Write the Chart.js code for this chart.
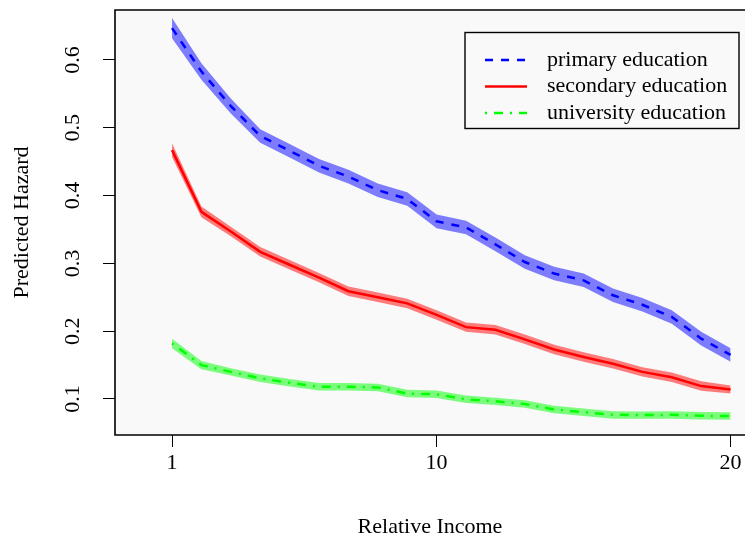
<!DOCTYPE html>
<html><head><meta charset="utf-8">
<script src="https://cdn.jsdelivr.net/npm/chart.js@4.4.1/dist/chart.umd.min.js"></script>
<style>html,body{margin:0;padding:0;background:#fff;overflow:hidden}#wrap{width:745px;height:542px}</style>
</head><body><div id="wrap"><canvas id="c" width="745" height="542"></canvas></div>
<script>
const income = [1,2,3,4,5,6,7,8,9,10,11,12,13,14,15,16,17,18,19,20];
const primary      = [0.647,0.583,0.532,0.488,0.466,0.444,0.428,0.408,0.395,0.362,0.353,0.328,0.302,0.285,0.275,0.253,0.239,0.221,0.189,0.165];
const primaryUpper = [0.662,0.595,0.543,0.498,0.476,0.454,0.438,0.418,0.405,0.372,0.363,0.338,0.312,0.295,0.285,0.263,0.249,0.231,0.199,0.175];
const primaryLower = [0.632,0.571,0.521,0.478,0.456,0.434,0.418,0.398,0.385,0.352,0.343,0.318,0.292,0.275,0.265,0.243,0.229,0.211,0.179,0.155];
const secondary      = [0.467,0.376,0.347,0.317,0.298,0.279,0.259,0.250,0.241,0.224,0.206,0.202,0.188,0.173,0.162,0.152,0.140,0.132,0.119,0.114];
const secondaryUpper = [0.477,0.384,0.354,0.324,0.305,0.286,0.266,0.257,0.248,0.231,0.213,0.209,0.195,0.180,0.169,0.159,0.147,0.139,0.126,0.120];
const secondaryLower = [0.457,0.368,0.340,0.310,0.291,0.272,0.252,0.243,0.234,0.217,0.199,0.195,0.181,0.166,0.155,0.145,0.133,0.125,0.112,0.108];
const university      = [0.182,0.150,0.140,0.1305,0.124,0.118,0.118,0.117,0.108,0.107,0.0995,0.0966,0.0926,0.0845,0.0806,0.0767,0.0762,0.0767,0.0752,0.0748];
const universityUpper = [0.189,0.156,0.1455,0.136,0.1295,0.1235,0.1235,0.1225,0.1135,0.1125,0.105,0.102,0.098,0.090,0.086,0.082,0.0817,0.082,0.0807,0.0803];
const universityLower = [0.175,0.144,0.1345,0.125,0.1185,0.1125,0.1125,0.1115,0.1025,0.1015,0.094,0.091,0.087,0.079,0.075,0.071,0.0707,0.071,0.0697,0.0693];
const seriesNames = ['primary education','secondary education','university education'];
const xTicks = [1,10,20];
const xTickLabels = ['1','10','20'];
const yTicks = [0.1,0.2,0.3,0.4,0.5,0.6];
const yTickLabels = ['0.1','0.2','0.3','0.4','0.5','0.6'];

const FONT = "'Liberation Serif','Times New Roman','DejaVu Serif',serif";
const FS = 22;
const lineColors = ['#0000ff','#ff0000','#00ff00'];
const bandColors = ['rgba(0,0,255,0.5)','rgba(255,0,0,0.5)','rgba(0,255,0,0.5)'];
const dashes = [[8,8],[],[2,7,9,7]];

const pts = arr => income.map((x,i)=>({x:x,y:arr[i]}));
const mains = [primary, secondary, university];
const uppers = [primaryUpper, secondaryUpper, universityUpper];
const lowers = [primaryLower, secondaryLower, universityLower];

const datasets = [];
for (let s=0;s<3;s++){
  datasets.push({label:seriesNames[s], data:pts(mains[s]), borderColor:lineColors[s], borderWidth:2.5,
    borderDash:dashes[s], fill:false, pointRadius:0, tension:0, order:0});
}
for (let s=0;s<3;s++){
  datasets.push({label:'upper'+s, data:pts(uppers[s]), borderColor:'rgba(0,0,0,0)', borderWidth:0,
    backgroundColor:bandColors[s], fill:{target:datasets.length+1}, pointRadius:0, tension:0, order:1});
  datasets.push({label:'lower'+s, data:pts(lowers[s]), borderColor:'rgba(0,0,0,0)', borderWidth:0,
    fill:false, pointRadius:0, tension:0, order:1});
}

const frame = {
  id:'frame',
  beforeDraw(chart){
    const {ctx, chartArea:a} = chart;
    ctx.save();
    ctx.fillStyle='#ffffff'; ctx.fillRect(0,0,chart.width,chart.height);
    ctx.fillStyle='#f9f9f9'; ctx.fillRect(a.left,a.top,a.right-a.left,a.bottom-a.top);
    ctx.restore();
  },
  afterDraw(chart){
    const {ctx, chartArea:a} = chart;
    ctx.save();
    ctx.strokeStyle='#000'; ctx.lineWidth=1.6;
    ctx.beginPath();
    ctx.moveTo(a.right+5,a.top); ctx.lineTo(a.left,a.top); ctx.lineTo(a.left,a.bottom); ctx.lineTo(a.right+5,a.bottom);
    ctx.stroke();
    // legend
    const lx=465, ly=32.5, lw=274, lh=96;
    ctx.lineWidth=1.4;
    ctx.strokeRect(lx,ly,lw,lh);
    const rows=[60,86.5,113];
    ctx.font = FS + "px " + FONT;
    ctx.textBaseline='middle'; ctx.textAlign='left';
    for(let s=0;s<3;s++){
      ctx.beginPath();
      ctx.strokeStyle=lineColors[s]; ctx.lineWidth=2.5; ctx.setLineDash(dashes[s]);
      ctx.moveTo(485,rows[s]); ctx.lineTo(527,rows[s]); ctx.stroke();
      ctx.setLineDash([]);
      ctx.fillStyle='#000';
      ctx.fillText(seriesNames[s],547,rows[s]);
    }
    ctx.restore();
  }
};

new Chart(document.getElementById('c'), {
  type:'line',
  data:{datasets:datasets},
  options:{
    responsive:false, animation:false, devicePixelRatio:1,
    layout:{padding:{top:10,right:0,bottom:0,left:0}},
    plugins:{legend:{display:false}, tooltip:{enabled:false}},
    scales:{
      x:{type:'linear', min:-0.94, max:20.49,
        afterBuildTicks:s=>{s.ticks = xTicks.map(v=>({value:v}));},
        ticks:{autoSkip:false, maxRotation:0, minRotation:0, padding:3, color:'#000',
          font:{family:FONT,size:FS}, callback:(v,i)=>xTickLabels[i]},
        grid:{drawOnChartArea:false, drawTicks:true, tickLength:12, color:'#000', lineWidth:1},
        border:{display:false},
        title:{display:true, text:'Relative Income', color:'#000', font:{family:FONT,size:FS}, padding:{top:0,bottom:2}},
        afterFit:s=>{s.height=107; s.paddingLeft=0; s.paddingRight=0;}
      },
      y:{type:'linear', min:0.0469, max:0.6737,
        afterBuildTicks:s=>{s.ticks = yTicks.map(v=>({value:v}));},
        ticks:{autoSkip:false, minRotation:90, maxRotation:90, crossAlign:'center', padding:16, color:'#000',
          font:{family:FONT,size:FS}, callback:(v,i)=>yTickLabels[i]},
        grid:{drawOnChartArea:false, drawTicks:true, tickLength:12, color:'#000', lineWidth:1},
        border:{display:false},
        title:{display:true, text:'Predicted Hazard', color:'#000', font:{family:FONT,size:FS}, padding:{top:9,bottom:0}},
        afterFit:s=>{s.width=115; s.paddingTop=0; s.paddingBottom=0;}
      }
    }
  },
  plugins:[frame]
});
</script></body></html>
